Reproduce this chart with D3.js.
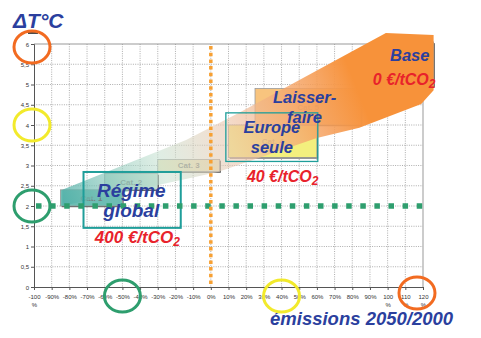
<!DOCTYPE html>
<html>
<head>
<meta charset="utf-8">
<script src="https://cdn.jsdelivr.net/npm/d3@7"></script>
<style>
  body { margin: 0; background: #fff; }
  svg { display: block; font-family: "Liberation Sans", Arial, sans-serif; }
</style>
</head>
<body>
<div id="chart"></div>
<script>
// data
const xTicks = [-100, -90, -80, -70, -60, -50, -40, -30, -20, -10, 0, 10, 20, 30, 40, 50, 60, 70, 80, 90, 100, 110, 120];
const yTicks = [0, 0.5, 1, 1.5, 2, 2.5, 3, 3.5, 4, 4.5, 5, 5.5, 6];
const yTickLabels = ["0", "0,5", "1", "1,5", "2", "2,5", "3", "3,5", "4", "4,5", "5", "5,5", "6"];

const categories = ["Cat. 1", "Cat. 2", "Cat. 3", "Cat. 4", "Cat. 5", "Cat. 6"];
const catX0 = [-85, -60, -30, 10, 25, 91];
const catX1 = [-50, -30, 5, 60, 85, 126];
const catY0 = [2.0, 2.4, 2.85, 3.2, 4.0, 4.95];
const catY1 = [2.4, 2.8, 3.15, 4.0, 4.9, 6.05];

const scenarios = ["Régime global", "Europe seule"];
const frameX0 = [-72, 8.5];
const frameX1 = [-17, 60.5];
const frameY0 = [1.46, 3.1];
const frameY1 = [2.84, 4.3];

// trajectoire (flèche) en coordonnées des données
const bandX = [-84, -14, 16, 99, 126, 126, 119, 84, 60, 4, -84];
const bandY = [2.4, 3.63, 4.3, 6.27, 6.22, 4.86, 4.52, 3.93, 3.68, 2.84, 2.0];

const targetTemp = 2;     // ligne verte
const refEmission = 0;    // ligne orange

const yHighlights = [6, 4, 2];
const xHighlights = [-50, 40, 120];

// annotations : [texte, x, y, ancre]
const blueLabels = [
  ["Régime", -45, 2.22, "middle"], ["global", -45, 1.73, "middle"],
  ["Europe", 34.5, 3.8, "middle"], ["seule", 34.5, 3.31, "middle"],
  ["Laisser-", 53, 4.54, "middle"], ["faire", 53, 4.05, "middle"],
  ["Base", 112.5, 5.58, "middle"]
];
const priceLabels = [
  ["400 €/tCO", -65.6, 1.09], ["40 €/tCO", 20.4, 2.59], ["0 €/tCO", 91.6, 4.99]
];

// setup
const width = 481, height = 338;
const svg = d3.select("#chart").append("svg")
  .attr("width", width).attr("height", height);

const x = d3.scaleLinear().domain([-100, 120]).range([34, 423]);
const y = d3.scaleLinear().domain([0, 6]).range([287, 44]);

const catFill = ["#6dbdb4", "#c3e0d2", "#efe5bd", "#f3ef7e", "#f8c47e", "#f7923a"];
const hlColor = ["#f26b21", "#f2ea2c", "#2e9e6e"];
const hlColorX = ["#2e9e6e", "#f2ea2c", "#f26b21"];
const BLUE = "#2b3f9e", RED = "#e8222b";

// grille
const grid = svg.append("g");
grid.selectAll("line.v").data(xTicks.slice(1, -1)).join("line")
  .attr("x1", d => x(d)).attr("x2", d => x(d))
  .attr("y1", y(6)).attr("y2", y(0))
  .attr("stroke", "#8a8a8a").attr("stroke-width", 0.7).attr("stroke-dasharray", "1,1.3");
grid.selectAll("line.h").data(yTicks.slice(1, -1)).join("line")
  .attr("x1", x(-100)).attr("x2", x(120))
  .attr("y1", d => y(d)).attr("y2", d => y(d))
  .attr("stroke", "#8a8a8a").attr("stroke-width", 0.7).attr("stroke-dasharray", "1,1.3");
grid.append("line").attr("x1", x(-100)).attr("x2", x(120)).attr("y1", y(6)).attr("y2", y(6))
  .attr("stroke", "#999").attr("stroke-width", 1);
grid.append("line").attr("x1", x(120)).attr("x2", x(120)).attr("y1", y(6)).attr("y2", y(0))
  .attr("stroke", "#bbb").attr("stroke-width", 1.5);

// axes
const xAxis = svg.append("g").attr("transform", `translate(0,${y(0)})`)
  .call(d3.axisBottom(x).tickValues(xTicks).tickSize(3).tickFormat(""));
const yAxis = svg.append("g").attr("transform", `translate(${x(-100)},0)`)
  .call(d3.axisLeft(y).tickValues(yTicks).tickSize(3).tickFormat(""));
[xAxis, yAxis].forEach(a => {
  a.select(".domain").attr("stroke", "#555").attr("stroke-width", 1);
  a.selectAll(".tick line").attr("stroke", "#555");
});
svg.append("line").attr("x1", x(-100) - 6).attr("x2", x(-100) + 4)
  .attr("y1", y(6) - 11).attr("y2", y(6) - 11).attr("stroke", "#111").attr("stroke-width", 1.5);

yAxis.selectAll(".tick").append("text")
  .attr("x", -5).attr("dy", "0.35em").attr("text-anchor", "end")
  .attr("fill", "#333").style("font-size", "6px")
  .text((d, i) => yTickLabels[i]);
xAxis.selectAll(".tick").each(function(d) {
  const t = d3.select(this).append("text")
    .attr("y", 12).attr("text-anchor", "middle")
    .attr("fill", "#333").style("font-size", "6px");
  if (d === -100 || d >= 100) {
    t.text(d);
    d3.select(this).append("text").attr("y", 20).attr("text-anchor", "middle")
      .attr("fill", "#333").style("font-size", "6px").text("%");
  } else {
    t.text(d + "%");
  }
});

// catégories
const cats = categories.map((c, i) => ({ c, x0: catX0[i], x1: catX1[i], y0: catY0[i], y1: catY1[i], fill: catFill[i] }));
const catG = svg.append("g");
catG.selectAll("rect.shadow").data(cats).join("rect")
  .attr("x", d => x(d.x0) + 1.2).attr("y", d => y(d.y1) + 1.2)
  .attr("width", d => x(d.x1) - x(d.x0)).attr("height", d => y(d.y0) - y(d.y1))
  .attr("fill", "#555");
catG.selectAll("rect.box").data(cats).join("rect")
  .attr("x", d => x(d.x0)).attr("y", d => y(d.y1))
  .attr("width", d => x(d.x1) - x(d.x0)).attr("height", d => y(d.y0) - y(d.y1))
  .attr("fill", d => d.fill).attr("stroke", "#9a9a9a").attr("stroke-width", 0.8);

// flèche dégradée
const defs = svg.append("defs");
const grad = defs.append("linearGradient").attr("id", "band")
  .attr("gradientUnits", "userSpaceOnUse")
  .attr("x1", x(-84)).attr("y1", y(2.2)).attr("x2", x(110)).attr("y2", y(5.6));
[[0, "#4fb0a8", 0.75], [0.28, "#c4e0cf", 0.55], [0.48, "#ecc6ae", 0.6],
 [0.68, "#f5a569", 0.8], [0.85, "#f7923a", 1], [1, "#f7923a", 1]]
  .forEach(([o, c, a]) => grad.append("stop").attr("offset", o).attr("stop-color", c).attr("stop-opacity", a));

svg.append("path")
  .datum(bandX.map((v, i) => [x(v), y(bandY[i])]))
  .attr("d", d3.line().curve(d3.curveLinearClosed))
  .attr("fill", "url(#band)");

// étiquettes des catégories
catG.selectAll("text").data(cats.slice(0, 5)).join("text")
  .attr("x", d => x((d.x0 + d.x1) / 2)).attr("y", d => y((d.y0 + d.y1) / 2))
  .attr("dy", "0.35em").attr("text-anchor", "middle")
  .attr("fill", "#777").attr("fill-opacity", d => d.y0 >= 3 ? 0.5 : 0.9)
  .style("font-size", "8px").style("font-weight", "bold")
  .text(d => d.c);

// cadres des scénarios
svg.selectAll("rect.frame").data(scenarios).join("rect")
  .attr("x", (d, i) => x(frameX0[i])).attr("y", (d, i) => y(frameY1[i]))
  .attr("width", (d, i) => x(frameX1[i]) - x(frameX0[i]))
  .attr("height", (d, i) => y(frameY0[i]) - y(frameY1[i]))
  .attr("fill", "none").attr("stroke", "#1f9e9a").attr("stroke-width", (d, i) => i === 0 ? 2 : 1.3);

// lignes pointillées
svg.append("line")
  .attr("x1", x(-100) + 2).attr("x2", x(120) + 3).attr("y1", y(targetTemp)).attr("y2", y(targetTemp))
  .attr("stroke", "#2e9e6e").attr("stroke-width", 5.5).attr("stroke-dasharray", "5.5,8.6");
svg.append("line")
  .attr("x1", x(refEmission)).attr("x2", x(refEmission)).attr("y1", y(6) + 2).attr("y2", y(0))
  .attr("stroke", "#f7a033").attr("stroke-width", 3.5).attr("stroke-dasharray", "3.5,3.2");

// textes
svg.selectAll("text.blue").data(blueLabels).join("text")
  .attr("x", d => x(d[1])).attr("y", d => y(d[2])).attr("text-anchor", d => d[3])
  .attr("fill", BLUE).style("font-size", d => d[0] === "Régime" || d[0] === "global" ? "19px" : "16.5px")
  .style("font-weight", "bold").style("font-style", "italic")
  .text(d => d[0]);

const price = svg.selectAll("text.price").data(priceLabels).join("text")
  .attr("x", d => x(d[1])).attr("y", d => y(d[2]))
  .attr("fill", RED).style("font-size", (d, i) => i === 0 ? "17px" : "16px")
  .style("font-weight", "bold").style("font-style", "italic");
price.append("tspan").text(d => d[0]);
price.append("tspan").attr("dy", 3).style("font-size", "12px").text("2");

svg.append("text").attr("x", 13).attr("y", 28)
  .attr("fill", BLUE).style("font-size", "21px").style("font-weight", "bold").style("font-style", "italic")
  .text("ΔT°C");
svg.append("text").attr("x", 270).attr("y", 325)
  .attr("fill", BLUE).style("font-size", "18.5px").style("font-weight", "bold").style("font-style", "italic")
  .text("émissions 2050/2000");

// cercles de mise en évidence
svg.selectAll("ellipse.yh").data(yHighlights).join("ellipse")
  .attr("cx", x(-100) - 2).attr("cy", d => y(d) + (d === 6 ? 3 : 0))
  .attr("rx", 18).attr("ry", 16)
  .attr("fill", "none").attr("stroke", (d, i) => hlColor[i]).attr("stroke-width", 3);
svg.selectAll("ellipse.xh").data(xHighlights).join("ellipse")
  .attr("cx", d => x(d) - (d === 120 ? 6 : 0)).attr("cy", d => y(0) + (d === 120 ? 6 : 9))
  .attr("rx", 18).attr("ry", 16)
  .attr("fill", "none").attr("stroke", (d, i) => hlColorX[i]).attr("stroke-width", 3);
</script>
</body>
</html>
